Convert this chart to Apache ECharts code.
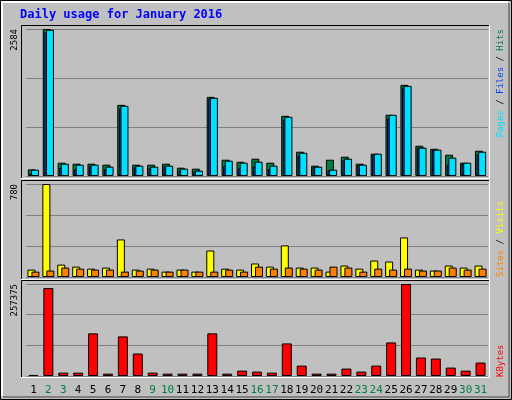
<!DOCTYPE html><html><head><meta charset="utf-8">
<script src="https://cdn.jsdelivr.net/npm/echarts@6/dist/echarts.min.js"></script>
<style>html,body{margin:0;padding:0;background:#c0c0c0}#c{width:512px;height:400px}</style></head><body><div id="c"></div>
<script>
const days=['1','2','3','4','5','6','7','8','9','10','11','12','13','14','15','16','17','18','19','20','21','22','23','24','25','26','27','28','29','30','31'];
const weekend=['2','3','9','10','16','17','23','24','30','31'];
const hits=[117,2584,234,216,216,199,1251,199,199,216,146,129,1391,286,251,304,234,1058,427,181,286,339,216,392,1076,1602,532,479,374,234,444];
const files=[47,2531,146,117,175,117,1187,158,146,175,99,82,1362,175,134,164,117,994,362,158,99,275,187,374,1011,1555,497,456,199,216,380];
const pages=[111,2570,216,199,199,164,1234,181,164,181,129,94,1374,269,234,251,181,1041,409,164,111,304,199,392,1076,1584,497,462,322,234,427];
const visits=[62,780,104,87,70,79,315,62,70,45,62,45,222,70,62,113,87,265,79,79,45,96,70,138,130,332,62,54,96,79,96];
const sites=[45,54,79,70,62,62,45,54,62,45,62,45,45,62,45,87,70,79,70,62,87,79,45,70,62,70,54,54,79,62,70];
const kbytes=[3000,246100,9400,9400,119300,6600,110800,62900,9400,6600,6600,6600,119300,6600,15000,12200,9400,91100,29100,6600,6600,20700,12200,29100,93900,257375,51700,48800,23500,15000,37600];
const maxTicks=['2584','780','257375'];
const maxVals=[2584,780,257375];

const mono='DejaVu Sans Mono';
const chart=echarts.init(document.getElementById('c'));
const grids=[{left:26,right:24,top:29,height:147},{left:26,right:24,top:184,height:93},{left:26,right:24,top:284,height:92}];
const xAxes=grids.map((g,i)=>({type:'category',gridIndex:i,data:days,axisLine:{show:false},axisTick:{show:false},
  axisLabel:{show:i===2,margin:9,fontFamily:mono,fontSize:11,interval:0,color:(v)=>weekend.includes(v)?'#008040':'#000'}}));
const yAxes=maxVals.map((m,i)=>({type:'value',gridIndex:i,min:0,max:m,interval:m/3,axisLabel:{show:false},axisLine:{show:false},axisTick:{show:false},
  splitLine:{lineStyle:{color:'#808080',width:1}}}));
const bs={borderColor:'#000',borderWidth:1};
const series=[
 {type:'bar',xAxisIndex:0,yAxisIndex:0,data:hits,barWidth:8,barGap:'-80%',itemStyle:{color:'#008040',...bs}},
 {type:'bar',xAxisIndex:0,yAxisIndex:0,data:files,barWidth:8,barGap:'-80%',itemStyle:{color:'#0040ff',...bs}},
 {type:'bar',xAxisIndex:0,yAxisIndex:0,data:pages,barWidth:8,barGap:'-80%',itemStyle:{color:'#00e0ff',...bs}},
 {type:'bar',xAxisIndex:1,yAxisIndex:1,data:visits,barWidth:8,barGap:'-50%',itemStyle:{color:'#ffff00',...bs}},
 {type:'bar',xAxisIndex:1,yAxisIndex:1,data:sites,barWidth:8,barGap:'-50%',itemStyle:{color:'#ff8000',...bs}},
 {type:'bar',xAxisIndex:2,yAxisIndex:2,data:kbytes,barWidth:10,itemStyle:{color:'#ff0000',...bs}}
];
const panels=[[21,25,490,179],[21,180,490,280],[21,280,490,378]];
const graphic=[
 {type:'rect',shape:{x:0.5,y:0.5,width:511,height:399},style:{fill:'none',stroke:'#000',lineWidth:1},z:-10},
 {type:'polyline',shape:{points:[[2,396],[2,2],[508,2]]},style:{stroke:'#fff',lineWidth:2,fill:'none'},z:-10},
 {type:'polyline',shape:{points:[[3,397],[509,397],[509,3]]},style:{stroke:'#808080',lineWidth:2,fill:'none'},z:-10},
 {type:'text',x:20,y:9,style:{text:'Daily usage for January 2016',font:'bold 12px "DejaVu Sans Mono"',fill:'#0000ff'}}
];
panels.forEach(p=>{
 graphic.push({type:'rect',shape:{x:p[0],y:p[1],width:p[2]-p[0],height:p[3]-p[1]},style:{fill:'#c0c0c0'},z:-5});
 graphic.push({type:'polyline',shape:{points:[[p[0]+0.5,p[3]],[p[0]+0.5,p[1]+0.5],[p[2],p[1]+0.5]]},style:{stroke:'#000',fill:'none',lineWidth:1},z:50});
 graphic.push({type:'polyline',shape:{points:[[p[0],p[3]-0.5],[p[2]-0.5,p[3]-0.5],[p[2]-0.5,p[1]]]},style:{stroke:'#fff',fill:'none',lineWidth:1},z:50});
});
[[29,0],[184,1],[284,2]].forEach(([y,i])=>graphic.push({type:'text',x:15,y:y,rotation:Math.PI/2,
 style:{text:maxTicks[i],font:'9px "DejaVu Sans Mono"',fill:'#000',align:'right',verticalAlign:'middle'}}));
const rf=9;
graphic.push({type:'text',x:501,y:29,rotation:Math.PI/2,style:{text:'{p|Pages}{s| / }{f|Files}{s| / }{h|Hits}',align:'right',verticalAlign:'middle',font:'9px "DejaVu Sans Mono"',
 rich:{p:{fill:'#00e0ff',fontFamily:mono,fontSize:rf},s:{fill:'#000',fontFamily:mono,fontSize:rf},f:{fill:'#0040ff',fontFamily:mono,fontSize:rf},h:{fill:'#008040',fontFamily:mono,fontSize:rf}}}});
graphic.push({type:'text',x:501,y:277,rotation:Math.PI/2,style:{text:'{a|Sites}{s| / }{b|Visits}',align:'left',verticalAlign:'middle',font:'9px "DejaVu Sans Mono"',
 rich:{a:{fill:'#ff8000',fontFamily:mono,fontSize:rf},s:{fill:'#000',fontFamily:mono,fontSize:rf},b:{fill:'#ffff00',fontFamily:mono,fontSize:rf}}}});
graphic.push({type:'text',x:501,y:377,rotation:Math.PI/2,style:{text:'KBytes',align:'left',verticalAlign:'middle',font:'9px "DejaVu Sans Mono"',fill:'#ff0000'}});
chart.setOption({animation:false,backgroundColor:'#c0c0c0',grid:grids,xAxis:xAxes,yAxis:yAxes,series,graphic});
</script></body></html>
